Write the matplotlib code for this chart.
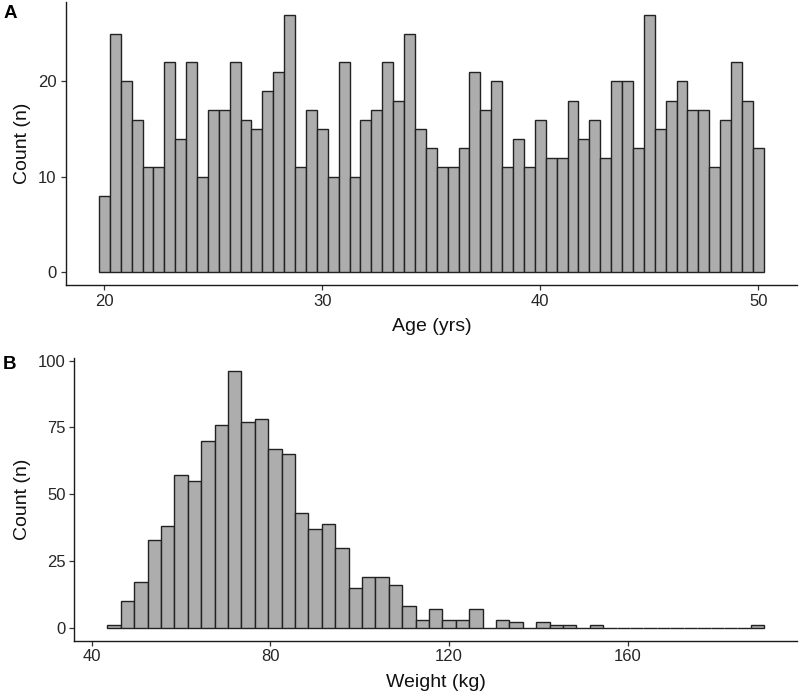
import matplotlib
matplotlib.use("Agg")
import matplotlib.pyplot as plt
import numpy as np

plt.rcParams["font.family"] = ["Liberation Sans", "DejaVu Sans"]

# age histogram, bins 0.5 yr wide centred on 20, 20.5, ... 50
age_centers = np.arange(20, 50.01, 0.5)
age_counts = [8, 25, 20, 16, 11, 11, 22, 14, 22, 10,
              17, 17, 22, 16, 15, 19, 21, 27, 11, 17,
              15, 10, 22, 10, 16, 17, 22, 18, 25, 15,
              13, 11, 11, 13, 21, 17, 20, 11, 14, 11,
              16, 12, 12, 18, 14, 16, 12, 20, 20, 13,
              27, 15, 18, 20, 17, 17, 11, 16, 22, 18, 13]
age_ticks = [20, 30, 40, 50]

# weight histogram, bins 3 kg wide centred on 45, 48, ... 189
weight_centers = np.arange(45, 190, 3)
weight_counts = [1, 10, 17, 33, 38, 57, 55, 70, 76, 96,
                 77, 78, 67, 65, 43, 37, 39, 30, 15, 19,
                 19, 16, 8, 3, 7, 3, 3, 7, 0, 3,
                 2, 0, 2, 1, 1, 0, 1, 0, 0, 0,
                 0, 0, 0, 0, 0, 0, 0, 0, 1]
weight_ticks = [40, 80, 120, 160]

count_ticks_a = [0, 10, 20]
count_ticks_b = [0, 25, 50, 75, 100]

bar_fill = "#adadad"
bar_edge = "#222222"
text_col = "#262626"

fig = plt.figure(figsize=(8, 6.95), dpi=100)
ax_a = fig.add_axes([0.0821, 0.5894, 0.9141, 0.4081])
ax_b = fig.add_axes([0.0931, 0.0784, 0.9031, 0.4058])


def hist_panel(ax, centers, counts, width, xticks, yticks, xlabel):
    ax.bar(centers, counts, width=width, color=bar_fill, edgecolor=bar_edge,
           linewidth=1.0, align="center")
    lo = centers[0] - width / 2
    hi = centers[-1] + width / 2
    pad_x = (hi - lo) * 0.05
    top = max(counts)
    ax.set_xlim(lo - pad_x, hi + pad_x)
    ax.set_ylim(-top * 0.05, top * 1.05)
    ax.set_xticks(xticks)
    ax.set_yticks(yticks)
    for side in ["top", "right"]:
        ax.spines[side].set_visible(False)
    for side in ["left", "bottom"]:
        ax.spines[side].set_linewidth(1.0)
        ax.spines[side].set_color("#1a1a1a")
    ax.tick_params(length=3.5, width=0.9, color="#333333", labelsize=12,
                   labelcolor=text_col)
    ax.tick_params(axis="x", pad=2.5)
    ax.tick_params(axis="y", pad=3)
    ax.set_xlabel(xlabel, fontsize=14, color="#111111", labelpad=7)
    ax.set_ylabel("Count (n)", fontsize=14, color="#111111", labelpad=5)


hist_panel(ax_a, age_centers, age_counts, 0.5, age_ticks, count_ticks_a, "Age (yrs)")
hist_panel(ax_b, weight_centers, weight_counts, 3, weight_ticks, count_ticks_b, "Weight (kg)")

fig.text(0.004, 0.980, "A", fontsize=13.5, fontweight="bold", va="center", ha="left")
fig.text(0.004, 0.476, "B", fontsize=13.5, fontweight="bold", va="center", ha="left")

fig.savefig("out.png", dpi=100)
